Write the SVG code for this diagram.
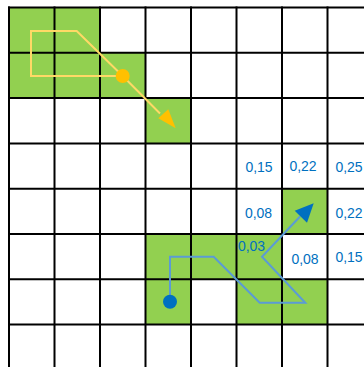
<svg xmlns="http://www.w3.org/2000/svg" width="364" height="367" viewBox="0 0 364 367">
<style>
.g{fill:#92D050}
.grid line{stroke:#000;stroke-width:2}
.lbl{font-family:"Liberation Sans",Arial,sans-serif;font-size:14px;fill:#0070C0;text-anchor:middle}
.yl{fill:none;stroke:#FFD966;stroke-width:2;stroke-linejoin:miter}
.bl{fill:none;stroke:#5B9BD5;stroke-width:2;stroke-linejoin:miter}
</style>
<rect width="364" height="367" fill="#fff"/>
<g id="cells">
<rect class="g" x="9" y="7.5" width="45.5" height="45.3"/>
<rect class="g" x="54.5" y="7.5" width="45.5" height="45.3"/>
<rect class="g" x="9" y="52.8" width="45.5" height="45.3"/>
<rect class="g" x="54.5" y="52.8" width="45.5" height="45.3"/>
<rect class="g" x="100" y="52.8" width="45.5" height="45.3"/>
<rect class="g" x="145.5" y="98.1" width="45.5" height="45.3"/>
<rect class="g" x="282" y="188.7" width="45.5" height="45.3"/>
<rect class="g" x="145.5" y="234" width="45.5" height="45.3"/>
<rect class="g" x="191" y="234" width="45.5" height="45.3"/>
<rect class="g" x="236.5" y="234" width="45.5" height="45.3"/>
<rect class="g" x="145.5" y="279.3" width="45.5" height="45.3"/>
<rect class="g" x="236.5" y="279.3" width="45.5" height="45.3"/>
<rect class="g" x="282" y="279.3" width="45.5" height="45.3"/>
</g>
<g id="grid" class="grid">
<line x1="9" y1="6.5" x2="9" y2="367"/>
<line x1="54.5" y1="6.5" x2="54.5" y2="367"/>
<line x1="100" y1="6.5" x2="100" y2="367"/>
<line x1="145.5" y1="6.5" x2="145.5" y2="367"/>
<line x1="191" y1="6.5" x2="191" y2="367"/>
<line x1="236.5" y1="6.5" x2="236.5" y2="367"/>
<line x1="282" y1="6.5" x2="282" y2="367"/>
<line x1="327.5" y1="6.5" x2="327.5" y2="367"/>
<line x1="8" y1="7.5" x2="364" y2="7.5"/>
<line x1="8" y1="52.8" x2="364" y2="52.8"/>
<line x1="8" y1="98.1" x2="364" y2="98.1"/>
<line x1="8" y1="143.4" x2="364" y2="143.4"/>
<line x1="8" y1="188.7" x2="364" y2="188.7"/>
<line x1="8" y1="234" x2="364" y2="234"/>
<line x1="8" y1="279.3" x2="364" y2="279.3"/>
<line x1="8" y1="324.6" x2="364" y2="324.6"/>
</g>
<g id="labels">
<text class="lbl" x="259" y="171.5">0,15</text>
<text class="lbl" x="303" y="171">0,22</text>
<text class="lbl" x="349" y="172">0,25</text>
<text class="lbl" x="258.5" y="217.5">0,08</text>
<text class="lbl" x="349" y="217.5">0,22</text>
<text class="lbl" x="251.5" y="251">0,03</text>
<text class="lbl" x="305" y="263.5">0,08</text>
<text class="lbl" x="349" y="261.5">0,15</text>
</g>
<g id="connectors">
<polyline class="yl" points="122.7,76 31,76 31,31 76.7,31 122.7,76 160,113.5"/>
<polygon fill="#FFC000" points="158.3,118.3 168.3,109.3 175.7,128.3"/>
<circle cx="122.7" cy="76" r="7" fill="#FFC000"/>
<polyline class="bl" points="170,301.7 170,256.7 213.7,256.7 259.7,302.7 305.3,302.7 262,256.7 300,216.5"/>
<polygon fill="#0070C0" points="294.7,210.7 313.7,203.3 307,222.7"/>
<circle cx="170" cy="301.7" r="7" fill="#0070C0"/>
</g>
</svg>
